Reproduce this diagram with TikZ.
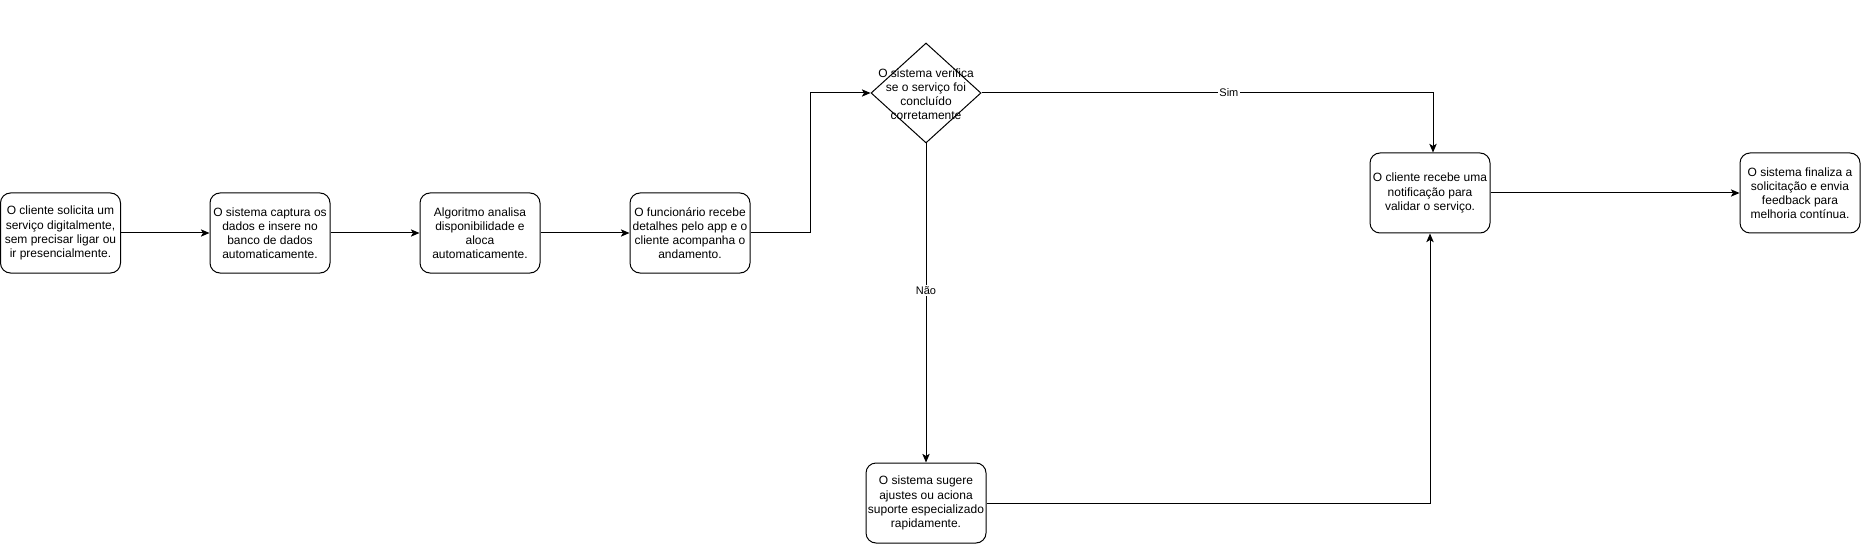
\documentclass[tikz,border=0pt]{standalone}
\usepackage{fontspec}
\setmainfont{Liberation Sans}
\usetikzlibrary{arrows.meta,shapes.geometric}
\begin{document}
\begin{tikzpicture}[x=0.75pt,y=-0.75pt,
  stepbox/.style={draw=black,fill=white,line width=0.75pt,rounded corners=7.5pt,
    minimum width=90pt,minimum height=60pt,inner sep=0pt,align=center,
    font=\fontsize{9pt}{10.6pt}\selectfont},
  decision/.style={draw=black,fill=white,line width=0.75pt,diamond,
    minimum width=82.5pt,minimum height=75pt,inner sep=0pt},
  conn/.style={draw=black,line width=0.75pt,
    -{Stealth[length=6.5pt,width=5.5pt,inset=1.6pt]}},
  elabel/.style={fill=white,inner sep=1pt,font=\fontsize{8.25pt}{9.5pt}\selectfont}]
\useasboundingbox (0,0) rectangle (1862,545);
\fill[white] (0,0) rectangle (1862,545);

\node[stepbox] (b1) at (60.5,233) {O cliente solicita um\\serviço digitalmente,\\sem precisar ligar ou\\ir presencialmente.};
\node[stepbox] (b2) at (270,233) {O sistema captura os\\dados e insere no\\banco de dados\\automaticamente.};
\node[stepbox] (b3) at (480,233) {Algoritmo analisa\\disponibilidade e\\aloca\\automaticamente.};
\node[stepbox] (b4) at (690,233) {O funcionário recebe\\detalhes pelo app e o\\cliente acompanha o\\andamento.};
\node[decision] (d) at (926,93) {};
\node[align=center,inner sep=0pt,font=\fontsize{9pt}{10.6pt}\selectfont] (dt) at (926,94) {O sistema verifica\\se o serviço foi\\concluído\\corretamente};
\node[stepbox] (b5) at (1430,193) {O cliente recebe uma\\notificação para\\validar o serviço.};
\node[stepbox] (b6) at (1800,193) {O sistema finaliza a\\solicitação e envia\\feedback para\\melhoria contínua.};
\node[stepbox] (b7) at (926,503) {O sistema sugere\\ajustes ou aciona\\suporte especializado\\rapidamente.};

\draw[conn] (b1.east) -- (b2.west);
\draw[conn] (b2.east) -- (b3.west);
\draw[conn] (b3.east) -- (b4.west);
\draw[conn] (b4.east) -- ++(60,0) |- (d.west);
\draw[conn] (d.east) -| ([xshift=2.25pt]b5.north)
  node[elabel,pos=0.274] {Sim};
\draw[conn] (d.south) -- (b7.north)
  node[elabel,pos=0.46] {Não};
\draw[conn] (b7.east) -| (b5.south);
\draw[conn] (b5.east) -- (b6.west);
\end{tikzpicture}
\end{document}
